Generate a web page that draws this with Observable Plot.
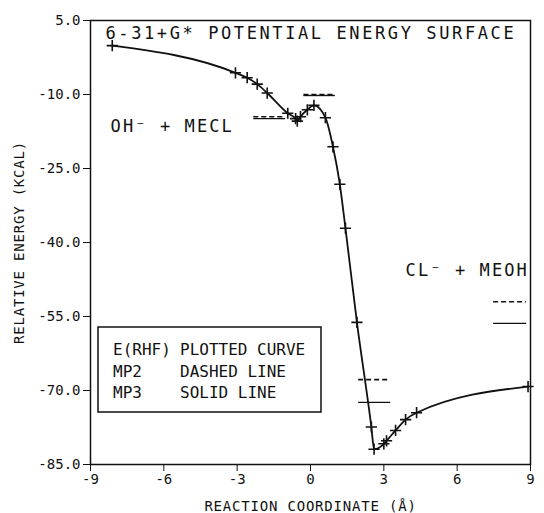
<!DOCTYPE html>
<html><head><meta charset="utf-8">
<script src="https://cdn.jsdelivr.net/npm/d3@7"></script>
<script src="https://cdn.jsdelivr.net/npm/@observablehq/plot@0.6"></script>
<style>
body{margin:0;background:#fff;}
#wrap{width:544px;height:513px;}
</style></head><body><div id="wrap"></div>
<script>
// E(RHF) computed points (reaction coordinate in Å, relative energy in kcal)
const rxnCoord = [-8.11, -3.07, -2.59, -2.18, -1.77, -0.93, -0.61, -0.54, -0.41, -0.13, 0.14, 0.61, 0.92, 1.20, 1.43, 1.90, 2.49, 2.60, 3.00, 3.11, 3.48, 3.89, 4.34, 8.9];
const eRHF     = [-0.1, -5.6, -6.6, -7.9, -9.7, -13.8, -14.9, -15.4, -14.5, -13.1, -12.2, -14.7, -20.6, -28.2, -37.1, -56.2, -77.4, -81.9, -80.8, -80.2, -78.1, -75.9, -74.5, -69.2];
// MP2 (dashed) and MP3 (solid) stationary-point levels
const levelStart = [-2.32, -0.27, 1.97, 7.49];
const levelEnd   = [-1.02, 1.02, 3.28, 8.84];
const mp2Energy  = [-14.5, -10.0, -67.8, -52.0];
const mp3Energy  = [-14.9, -10.2, -72.4, -56.4];
const xTicks = [-9, -6, -3, 0, 3, 6, 9];
const yTicks = [5, -10, -25, -40, -55, -70, -85];
const titleText = "6-31+G* POTENTIAL ENERGY SURFACE";
const reactantLabel = "OH⁻ + MECL";
const productLabel = "CL⁻ + MEOH";
const legendKeys = ["E(RHF)", "MP2", "MP3"];
const legendDescs = ["PLOTTED CURVE", "DASHED LINE", "SOLID LINE"];

const pts = rxnCoord.map((x, i) => ({x, e: eRHF[i]}));
const levels = levelStart.map((x1, i) => ({x1, x2: levelEnd[i], mp2: mp2Energy[i], mp3: mp3Energy[i]}));
const font = "DejaVu Sans Mono";
const ink = "#111";

const chart = Plot.plot({
  width: 544, height: 513,
  marginLeft: 90, marginRight: 14, marginTop: 20, marginBottom: 49,
  style: {fontFamily: font, fontSize: "14px", color: ink, background: "#fff"},
  x: {domain: [-9, 9], ticks: xTicks, tickFormat: d => String(d), tickSize: 7, tickPadding: 3,
      label: "REACTION COORDINATE (Å)", labelAnchor: "center", labelArrow: "none", labelOffset: 46},
  y: {domain: [-85, 5], ticks: yTicks, tickFormat: d => d.toFixed(1), tickSize: 7, tickPadding: 3,
      label: "RELATIVE ENERGY (KCAL)", labelAnchor: "center", labelArrow: "none", labelOffset: 76},
  marks: [
    Plot.frame({stroke: ink, strokeWidth: 1.5}),
    Plot.line(pts, {x: "x", y: "e", curve: "monotone-x", stroke: ink, strokeWidth: 1.8}),
    Plot.dot(pts, {x: "x", y: "e", symbol: "plus", r: 3.7, stroke: ink, strokeWidth: 1.6}),
    Plot.ruleY(levels, {y: "mp2", x1: "x1", x2: "x2", stroke: ink, strokeWidth: 1.6, strokeDasharray: "5,3"}),
    Plot.ruleY(levels, {y: "mp3", x1: "x1", x2: "x2", stroke: ink, strokeWidth: 1.4}),
    Plot.text([titleText], {text: d => d, frameAnchor: "top-left", dx: 15, dy: 6, lineAnchor: "top", textAnchor: "start", fontSize: 17, fill: ink}),
    Plot.text([reactantLabel], {text: d => d, x: -8.18, y: -16.4, textAnchor: "start", fontSize: 17, fill: ink}),
    Plot.text([productLabel], {text: d => d, x: 3.89, y: -45.7, textAnchor: "start", fontSize: 17, fill: ink})
  ]
});

const svg = d3.select(chart);
svg.selectAll("text").each(function() {
  const t = this.textContent;
  if (t === titleText) d3.select(this).attr("letter-spacing", "2.6px");
  else if (t === reactantLabel || t === productLabel) d3.select(this).attr("letter-spacing", "2.1px");
  else if (t.startsWith("REACTION") || t.startsWith("RELATIVE")) d3.select(this).attr("letter-spacing", "0.8px");
});

// legend box (inside the plot frame)
const lg = svg.append("g").attr("font-family", font).attr("font-size", 16).attr("fill", ink).attr("text-anchor", "start");
lg.append("rect").attr("x", 98).attr("y", 327).attr("width", 223).attr("height", 85)
  .attr("fill", "#fff").attr("stroke", ink).attr("stroke-width", 1.5);
legendKeys.forEach((k, i) => {
  lg.append("text").attr("x", 113).attr("y", 355 + i * 21.5).attr("text-anchor", "start").text(k);
  lg.append("text").attr("x", 180).attr("y", 355 + i * 21.5).attr("text-anchor", "start").text(legendDescs[i]);
});

document.getElementById("wrap").append(chart);
</script></body></html>
